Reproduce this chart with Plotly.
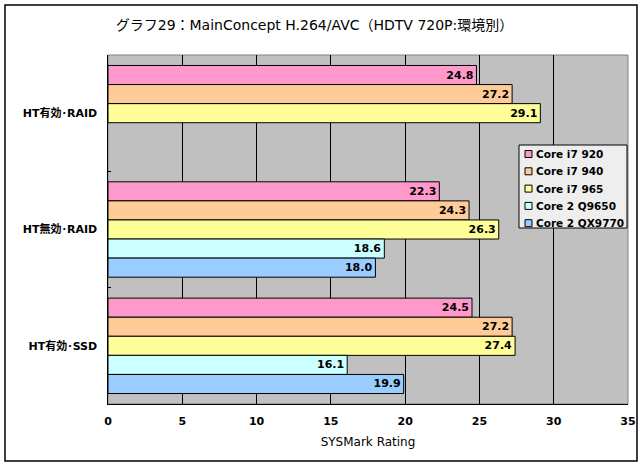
import plotly.graph_objects as go

categories = ["HT有効･RAID", "HT無効･RAID", "HT有効･SSD"]
series_names = ["Core i7 920", "Core i7 940", "Core i7 965", "Core 2 Q9650", "Core 2 QX9770"]
core_i7_920 = [24.8, 22.3, 24.5]
core_i7_940 = [27.2, 24.3, 27.2]
core_i7_965 = [29.1, 26.3, 27.4]
core2_q9650 = [None, 18.6, 16.1]
core2_qx9770 = [None, 18.0, 19.9]
colors = ["#FF99CC", "#FFCC99", "#FFFF99", "#CCFFFF", "#99CCFF"]
x_ticks = [0, 5, 10, 15, 20, 25, 30, 35]

FONT = "DejaVu Sans, Noto Sans CJK JP"
W, H = 643, 467
L, R, T, B = 108, 15, 55, 63
pw, ph = W - L - R, H - T - B


def px(x):
    return (x - L) / pw


def py(y):
    return (H - B - y) / ph


fig = go.Figure()
for name, vals, col in zip(series_names,
                           [core_i7_920, core_i7_940, core_i7_965, core2_q9650, core2_qx9770],
                           colors):
    fig.add_trace(go.Bar(
        y=categories, x=vals, name=name, orientation="h",
        marker=dict(color=col, line=dict(color="black", width=1)),
        text=[("%.1f" % v) if v is not None else "" for v in vals],
        textposition="inside", insidetextanchor="end",
        textfont=dict(family=FONT, size=11, color="black", weight="bold"),
        constraintext="none", showlegend=False, hoverinfo="skip",
    ))

shapes = [
    dict(type="rect", xref="paper", yref="paper", x0=0, x1=1, y0=0, y1=1,
         line=dict(color="#808080", width=1), layer="below"),
    dict(type="rect", xref="paper", yref="paper",
         x0=px(5), x1=px(637), y0=py(461), y1=py(5),
         line=dict(color="black", width=1.5)),
    # legend box
    dict(type="rect", xref="paper", yref="paper",
         x0=px(519), x1=px(627), y0=py(228), y1=py(145),
         fillcolor="#EEEEEE", line=dict(color="black", width=1)),
]
annotations = []
for i, (name, col) in enumerate(zip(series_names, colors)):
    yc = 154 + i * 17.3
    shapes.append(dict(type="rect", xref="paper", yref="paper",
                       x0=px(525), x1=px(532), y0=py(yc + 3.5), y1=py(yc - 3.5),
                       fillcolor=col, line=dict(color="black", width=1)))
    annotations.append(dict(xref="paper", yref="paper", x=px(534), y=py(yc),
                            xanchor="left", yanchor="middle", showarrow=False,
                            text=name,
                            font=dict(family=FONT, size=10.5, color="black", weight="bold")))

fig.update_layout(
    width=W, height=H,
    margin=dict(l=L, r=R, t=T, b=B, autoexpand=False),
    paper_bgcolor="white", plot_bgcolor="#C0C0C0",
    barmode="group", bargap=0.18, bargroupgap=0,
    font=dict(family=FONT, color="black"),
    title=dict(text="グラフ29：MainConcept H.264/AVC（HDTV 720P:環境別）",
               x=314.5 / W, xanchor="center", y=1 - 25 / H, yanchor="middle",
               font=dict(family=FONT, size=14, color="black")),
    showlegend=False,
    hovermode=False,
    xaxis=dict(range=[0, 35], tickvals=x_ticks, ticktext=[str(t) for t in x_ticks],
               showgrid=True, gridcolor="black", gridwidth=1,
               showline=True, linecolor="black", linewidth=1, zeroline=False,
               ticks="outside", ticklen=7, tickcolor="rgba(0,0,0,0)",
               tickfont=dict(family=FONT, size=11, color="black", weight="bold"),
               title=dict(text="SYSMark Rating", font=dict(family=FONT, size=12, color="black"),
                          standoff=10)),
    yaxis=dict(autorange="reversed", showgrid=False, showline=True, linecolor="black",
               linewidth=1, ticks="inside", ticklen=3, tickson="boundaries",
               tickcolor="black",
               tickfont=dict(family=FONT, size=11, color="black", weight="bold"),
               ticksuffix="  "),
    shapes=shapes,
    annotations=annotations,
)

fig.write_html("out.html", config={"displayModeBar": False, "staticPlot": True},
               post_script="document.body.style.margin='0';")
